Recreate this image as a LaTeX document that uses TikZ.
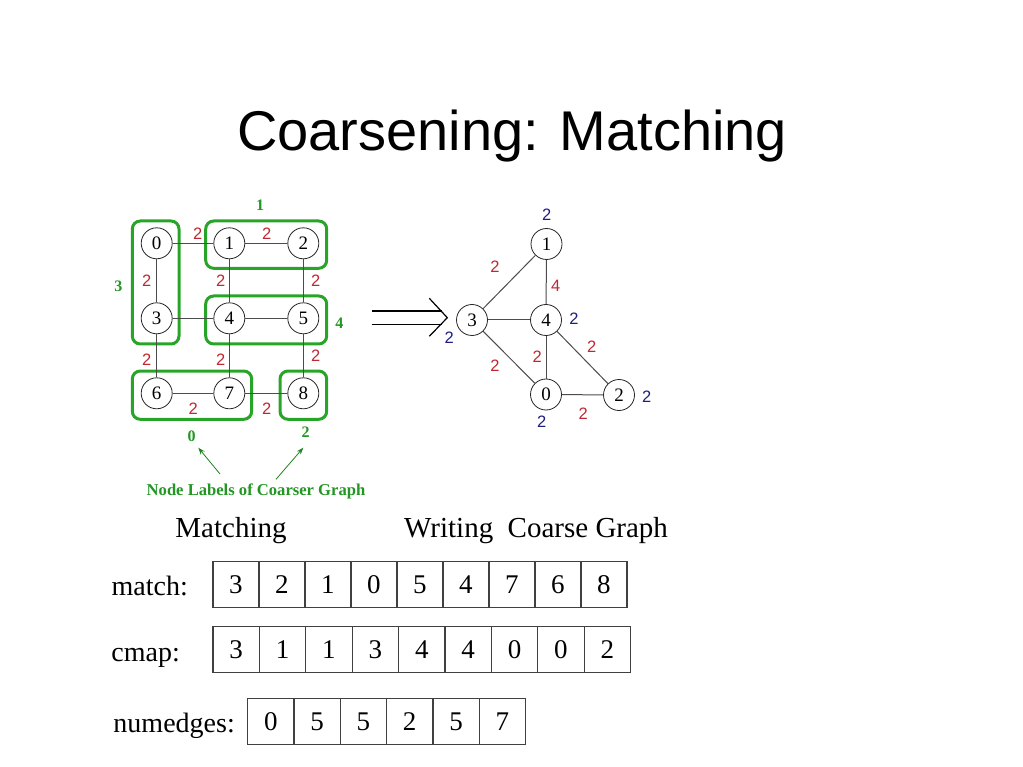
\documentclass[tikz,border=0pt]{standalone}
\usepackage{fontspec}
\setmainfont{Liberation Serif}
\newfontfamily\sansf{Liberation Sans}
\usetikzlibrary{arrows.meta}
\definecolor{grn}{RGB}{40,165,40}
\definecolor{grnt}{RGB}{35,150,35}
\definecolor{redc}{RGB}{190,40,50}
\definecolor{bluec}{RGB}{30,30,130}
\tikzset{
  gnode/.style={circle, draw=black!85, line width=0.8pt, fill=white, minimum size=31pt, inner sep=0pt, font=\fontsize{19}{19}\selectfont},
  edgeln/.style={draw=black!70, line width=1pt},
  mbox/.style={draw=grn, line width=3pt, rounded corners=8pt},
  rl/.style={text=redc, inner sep=0pt, font=\sansf\fontsize{16.5}{16.5}\selectfont},
  bl/.style={text=bluec, inner sep=0pt, font=\sansf\fontsize{16.5}{16.5}\selectfont},
  gl/.style={text=grnt, inner sep=0pt, font=\bfseries\fontsize{16}{16}\selectfont},
  garrow/.style={draw=grn!80!black, line width=0.8pt, -{Stealth[length=7pt,width=5pt]}},
  cell/.style={draw=black!75, line width=1.3pt, minimum height=46pt, inner sep=0pt, anchor=north west, font=\fontsize{27}{27}\selectfont},
  rowlab/.style={anchor=base east, inner sep=0pt, font=\fontsize{28}{28}\selectfont},
  caption/.style={anchor=base, inner sep=0pt, font=\fontsize{29}{29}\selectfont},
  implarrow/.style={draw=black, line width=1.2pt}
}
\begin{document}
\begin{tikzpicture}[x=1pt,y=-1pt]
\useasboundingbox (0,0) rectangle (1023,767);
\fill[white] (0,0) rectangle (1023,767);
% title
\node[anchor=base, inner sep=0pt, font=\sansf\fontsize{56}{56}\selectfont] (title) at (512,151) {Coarsening: Matching};

% ---- left graph
\draw[mbox] (132.3,221) rectangle (179,344);
\draw[mbox] (205.7,221) rectangle (326.7,268.3);
\draw[mbox] (205.7,296) rectangle (326.7,344);
\draw[mbox] (132.3,371) rectangle (251.7,419.3);
\draw[mbox] (280,371) rectangle (326.7,419.3);

\node[gnode] (a0) at (156.7,243.3) {0};
\node[gnode] (a1) at (229.3,243.3) {1};
\node[gnode] (a2) at (303.3,243.3) {2};
\node[gnode] (a3) at (156.7,318.3) {3};
\node[gnode] (a4) at (229.3,318.3) {4};
\node[gnode] (a5) at (303.3,318.3) {5};
\node[gnode] (a6) at (156.7,393.3) {6};
\node[gnode] (a7) at (229.3,393.3) {7};
\node[gnode] (a8) at (303.3,393.3) {8};
\foreach \u/\v in {a0/a1,a1/a2,a0/a3,a1/a4,a2/a5,a3/a4,a4/a5,a3/a6,a4/a7,a5/a8,a6/a7,a7/a8}
  \draw[edgeln] (\u) -- (\v);

\node[rl] (la01) at (197.7,233.3) {2};
\node[rl] (la12) at (266.7,233.3) {2};
\node[rl] (la03) at (146.7,280.7) {2};
\node[rl] (la14) at (220.7,280.7) {2};
\node[rl] (la25) at (315.7,280.7) {2};
\node[rl] (la36) at (146.7,360) {2};
\node[rl] (la47) at (220.7,360) {2};
\node[rl] (la58) at (315.7,355.7) {2};
\node[rl] (la67) at (193.3,408.3) {2};
\node[rl] (la78) at (266.7,408.3) {2};

\node[gl] (g1) at (260,205) {1};
\node[gl] (g3) at (118.3,286) {3};
\node[gl] (g4) at (339.3,323.3) {4};
\node[gl] (g0) at (191.7,436) {0};
\node[gl] (g2) at (305.7,432.7) {2};

\node[inner sep=0pt, text=grnt, font=\bfseries\fontsize{16.6}{16.6}\selectfont] (nlab) at (256,491) {Node Labels of Coarser Graph};
\coordinate (t0a) at (220,474);
\coordinate (t0b) at (198.3,447.7);
\coordinate (t2a) at (276,479.3);
\coordinate (t2b) at (303.3,447.7);
\draw[garrow] (t0a) -- (t0b);
\draw[garrow] (t2a) -- (t2b);

% ---- implies arrow
\coordinate (ia1) at (371.7,311);
\coordinate (ia2) at (442,311);
\coordinate (ib1) at (371.7,324.3);
\coordinate (ib2) at (442,324.3);
\coordinate (tip) at (447.3,317.7);
\coordinate (w1) at (429.3,298.3);
\coordinate (w2) at (429.3,336.3);
\draw[implarrow] (ia1) -- (ia2);
\draw[implarrow] (ib1) -- (ib2);
\draw[implarrow] (w1) -- (tip) -- (w2);

% ---- right graph
\node[gnode] (b1) at (546.5,244) {1};
\node[gnode] (b3) at (472,320) {3};
\node[gnode] (b4) at (546,320) {4};
\node[gnode] (b0) at (546,394.5) {0};
\node[gnode] (b2) at (619,395) {2};
\foreach \u/\v in {b1/b3,b1/b4,b3/b4,b3/b0,b4/b0,b4/b2,b0/b2}
  \draw[edgeln] (\u) -- (\v);

\node[rl] (lb13) at (495,266.7) {2};
\node[rl] (lb14) at (555.7,285.7) {4};
\node[rl] (lb42) at (591.7,346.7) {2};
\node[rl] (lb40) at (537.3,356.7) {2};
\node[rl] (lb30) at (495,365.7) {2};
\node[rl] (lb02) at (583.3,413.3) {2};

\node[bl] (wb1) at (546.7,215) {2};
\node[bl] (wb4) at (574,319) {2};
\node[bl] (wb3) at (449.3,337.7) {2};
\node[bl] (wb0) at (541.7,421.7) {2};
\node[bl] (wb2) at (646.7,396.7) {2};

% ---- captions
\node[caption] (capm) at (231,537) {Matching};
\node[caption, anchor=base west] (capw) at (404,537) {Writing\ \ Coarse Graph};

% ---- arrays
\node[rowlab] (lmatch) at (188,595) {match:};
\node[rowlab] (lcmap) at (180,661) {cmap:};
\node[rowlab] (lnum) at (235,732.5) {numedges:};

\foreach \d [count=\i from 0] in {3,2,1,0,5,4,7,6,8}
  \node[cell, minimum width=46pt] (m\i) at (212.3+46*\i,560.7) {\d};
\foreach \d [count=\i from 0] in {3,1,1,3,4,4,0,0,2}
  \node[cell, minimum width=46.4pt] (c\i) at (212.3+46.4*\i,626) {\d};
\foreach \d [count=\i from 0] in {0,5,5,2,5,7}
  \node[cell, minimum width=46.3pt] (e\i) at (247+46.3*\i,698) {\d};
\end{tikzpicture}
\end{document}
